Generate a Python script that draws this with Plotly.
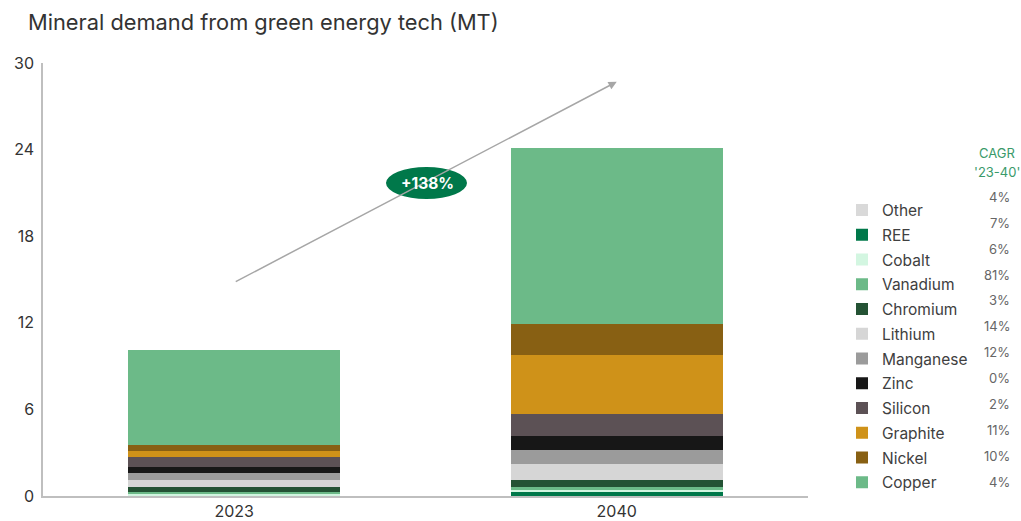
import plotly.graph_objects as go

# Demand in million tonnes, stacked bottom-to-top in this order
years = ["2023", "2040"]
minerals = ["Other", "REE", "Cobalt", "Vanadium", "Chromium", "Lithium",
            "Manganese", "Zinc", "Silicon", "Graphite", "Nickel", "Copper"]
demand_2023 = [0.02, 0.04, 0.05, 0.15, 0.35, 0.51, 0.46, 0.42, 0.72, 0.42, 0.42, 6.54]
demand_2040 = [0.03, 0.22, 0.15, 0.25, 0.46, 1.09, 0.97, 0.99, 1.50, 4.11, 2.15, 12.18]
cagr = ["4%", "7%", "6%", "81%", "3%", "14%", "12%", "0%", "2%", "11%", "10%", "4%"]
growth_label = "+138%"
y_ticks = [0, 6, 12, 18, 24, 30]

colors = ["#d9d9d9", "#00784a", "#d3f6e1", "#6cba88", "#245234", "#d6d6d6",
          "#9b9b9b", "#171717", "#5c5155", "#cf9219", "#886013", "#6cba88"]

FONT = "Inter"
TEXT = "#333333"
AXIS = "#bfbfbf"

W, H = 1021, 521
L, R, T, B = 43, 213, 63, 25
PW, PH = W - L - R, H - T - B


def px(x):
    return (x - L) / PW


def py(y):
    return (H - B - y) / PH


fig = go.Figure()
for i, name in enumerate(minerals):
    fig.add_trace(go.Bar(
        x=years, y=[demand_2023[i], demand_2040[i]], name=name,
        marker=dict(color=colors[i], line=dict(width=0)),
        legendgroup=name, hoverinfo="skip",
    ))

totals = [sum(demand_2023), sum(demand_2040)]
for yr, tot in zip(years, totals):
    fig.add_annotation(x=yr, y=tot, text=f"{tot:.1f}", showarrow=False,
                       yanchor="bottom", yshift=3,
                       font=dict(family=FONT, size=16, color=TEXT))

# growth arrow between the two bars
fig.add_annotation(x=1.0, y=28.7, ax=0.0, ay=14.8, xref="x", yref="y",
                   axref="x", ayref="y", text="", showarrow=True,
                   arrowhead=2, arrowsize=1.1, arrowwidth=1.5, arrowcolor="#a6a6a6")
fig.add_shape(type="circle", xref="paper", yref="paper",
              x0=px(386), x1=px(467), y0=py(199), y1=py(167),
              fillcolor="#00784a", line=dict(width=0), layer="above")
fig.add_annotation(xref="paper", yref="paper", x=px(427), y=py(183),
                   yanchor="middle", xanchor="center",
                   text=f"<b>{growth_label}</b>", showarrow=False,
                   font=dict(family=FONT, size=15.5, color="white"))

# CAGR column beside the legend
fig.add_annotation(xref="paper", yref="paper", x=px(997), y=py(153),
                   xanchor="center", yanchor="middle",
                   text="CAGR", showarrow=False,
                   font=dict(family=FONT, size=13, color="#3a9a6a"))
fig.add_annotation(xref="paper", yref="paper", x=px(997), y=py(172),
                   xanchor="center", yanchor="middle",
                   text="'23-40'", showarrow=False,
                   font=dict(family=FONT, size=13, color="#3a9a6a"))
for i, val in enumerate(cagr):
    fig.add_annotation(xref="paper", yref="paper", x=px(1012),
                       y=py(196.7 + i * 25.94), xanchor="right", yanchor="middle",
                       text=val, showarrow=False,
                       font=dict(family=FONT, size=13, color="#666666"))

fig.update_layout(
    width=W, height=H, template="none",
    margin=dict(l=L, r=R, t=T, b=B, autoexpand=False),
    paper_bgcolor="white", plot_bgcolor="white",
    barmode="stack", bargap=0.445,
    font=dict(family=FONT, color=TEXT),
    title=dict(text="Mineral demand from green energy tech (MT)",
               xref="container", yref="container", x=28 / W, y=1 - 22 / H,
               xanchor="left", yanchor="middle",
               font=dict(family=FONT, size=21.8, color=TEXT)),
    legend=dict(traceorder="grouped", tracegroupgap=1.6,
                x=px(842), y=py(193.5), xanchor="left", yanchor="top",
                font=dict(family=FONT, size=15.5, color="#404040"),
                bgcolor="rgba(0,0,0,0)"),
    xaxis=dict(type="category", showline=True, linecolor=AXIS, linewidth=1.5,
               showgrid=False, ticks="",
               tickfont=dict(family=FONT, size=16, color=TEXT),
               automargin=False, range=[-0.5, 1.5]),
    yaxis=dict(showline=True, linecolor=AXIS, linewidth=1.5, showgrid=False,
               zeroline=False, ticks="", range=[0, 30], tickvals=y_ticks,
               ticklabelstandoff=4,
               tickfont=dict(family=FONT, size=16, color=TEXT),
               automargin=False),
)

fig.write_html("out.html")
